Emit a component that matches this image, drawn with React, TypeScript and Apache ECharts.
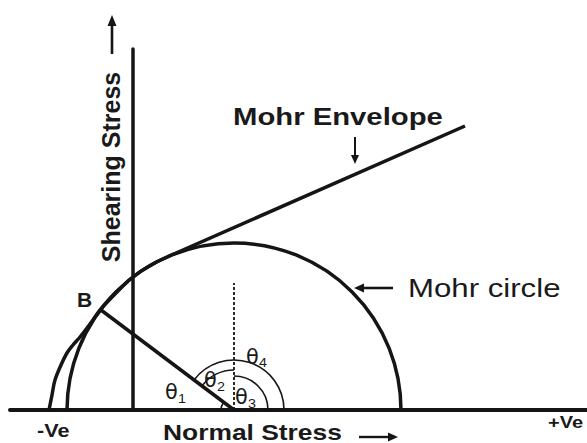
import React, { useEffect, useRef } from "react";
import * as echarts from "echarts";

// ---- data (stress units) ----
const xRange = [-123, 454]; // normal stress axis extent
const yRange = [0, 361]; // shearing stress axis extent
const sigma3 = -66; // Mohr circle, minor principal stress
const sigma1 = 268; // Mohr circle, major principal stress
const pointB = [-32, 100]; // point B on the circle
const centerLineTop = 127; // top of dotted vertical line through the centre
const envelopeCurveX = [-84, -81, -78, -72, -66, -60, -53, -43, -32, -15, 0, 17, 34];
const envelopeCurveY = [0, 15, 30, 45, 57, 65, 73, 86, 101, 119, 133, 144.5, 153];
const envelopeLineX = [34, 332];
const envelopeLineY = [153, 284];
const arcNames = ["θ1", "θ2", "θ3", "θ4"];
const arcRadii = [13, 40, 34, 50];

const FONT = '"Liberation Sans", Arial, Helvetica, sans-serif';
const GREEK = '"DejaVu Sans", "Liberation Sans", sans-serif';
const INK = "#151515";

export default function App() {
  const ref = useRef<HTMLDivElement>(null);

  useEffect(() => {
    document.body.style.margin = "0";
    const chart = echarts.init(ref.current!, null, { renderer: "svg" });

    const center = (sigma1 + sigma3) / 2;
    const lineAngle = (Math.atan2(pointB[1], pointB[0] - center) * 180) / Math.PI;
    const arcSpans = [
      [lineAngle, 180],
      [90, lineAngle],
      [0, 90],
      [0, lineAngle],
    ];
    const arcData = arcNames.map((n, i) => [arcRadii[i], arcSpans[i][0], arcSpans[i][1]]);

    const txt = (
      text: string,
      x: number,
      y: number,
      size: number,
      weight: string,
      scaleX = 1.2,
      align = "left",
      rotation = 0,
      family = FONT
    ) => ({
      type: "text",
      x,
      y,
      scaleX,
      rotation,
      z: 10,
      style: {
        text,
        fontSize: size,
        fontWeight: weight,
        fontFamily: family,
        lineHeight: Math.round(size * 0.9),
        fill: "#1a1a1a",
        align,
        verticalAlign: "middle",
      },
    });

    const arrowLine = (x1: number, y1: number, x2: number, y2: number, w: number) => ({
      type: "line",
      z: 10,
      shape: { x1, y1, x2, y2 },
      style: { stroke: INK, lineWidth: w },
    });
    const head = (pts: number[][]) => ({
      type: "polygon",
      z: 10,
      shape: { points: pts },
      style: { fill: INK },
    });

    chart.setOption({
      animation: false,
      backgroundColor: "#ffffff",
      grid: { left: 10, right: 0, top: 49, bottom: 33, containLabel: false, outerBoundsMode: "none" },
      xAxis: {
        type: "value",
        min: xRange[0],
        max: xRange[1],
        axisLine: { show: true, onZero: true, lineStyle: { color: INK, width: 4 } },
        axisTick: { show: false },
        axisLabel: { show: false },
        splitLine: { show: false },
      },
      yAxis: {
        type: "value",
        min: yRange[0],
        max: yRange[1],
        axisLine: { show: true, onZero: true, lineStyle: { color: INK, width: 3.5 } },
        axisTick: { show: false },
        axisLabel: { show: false },
        splitLine: { show: false },
      },
      series: [
        {
          type: "custom",
          name: "Mohr circle",
          data: [[sigma3, sigma1]],
          clip: false,
          renderItem: (params: any, api: any) => {
            const s3 = api.value(0);
            const s1 = api.value(1);
            const c = api.coord([(s1 + s3) / 2, 0]);
            const r = api.size([(s1 - s3) / 2, 0])[0];
            return {
              type: "arc",
              shape: { cx: c[0], cy: c[1], r, startAngle: Math.PI, endAngle: 2 * Math.PI, clockwise: true },
              style: { stroke: INK, lineWidth: 3.5, fill: "none" },
            };
          },
        },
        {
          type: "line",
          name: "Mohr envelope curve",
          data: envelopeCurveX.map((x, i) => [x, envelopeCurveY[i]]),
          smooth: 0.35,
          symbol: "none",
          lineStyle: { color: INK, width: 3.5 },
        },
        {
          type: "line",
          name: "Mohr envelope",
          data: envelopeLineX.map((x, i) => [x, envelopeLineY[i]]),
          symbol: "none",
          lineStyle: { color: INK, width: 3.5 },
        },
        {
          type: "line",
          name: "radius",
          data: [pointB, [center, 0]],
          symbol: "none",
          lineStyle: { color: INK, width: 3.5 },
        },
        {
          type: "line",
          name: "centre line",
          data: [
            [center, 0],
            [center, centerLineTop],
          ],
          symbol: "none",
          lineStyle: { color: INK, width: 1.8, type: [3, 2] },
        },
        {
          type: "custom",
          name: "angles",
          data: arcData,
          clip: false,
          renderItem: (params: any, api: any) => {
            const c = api.coord([center, 0]);
            const r = api.size([api.value(0), 0])[0];
            const a0 = (api.value(1) * Math.PI) / 180;
            const a1 = (api.value(2) * Math.PI) / 180;
            return {
              type: "arc",
              shape: { cx: c[0], cy: c[1], r, startAngle: -a1, endAngle: -a0, clockwise: true },
              style: { stroke: INK, lineWidth: 1.6, fill: "none" },
            };
          },
        },
      ],
      graphic: [
        txt("Mohr Envelope", 233, 117, 24, "bold", 1.22),
        txt("Mohr circle", 408, 288, 26, "normal", 1.2),
        txt("Normal Stress", 163, 432, 22, "bold"),
        txt("-Ve", 37, 431, 18, "bold"),
        txt("+Ve", 548, 423, 16, "bold", 1.25),
        txt("B", 77, 300, 20, "bold", 1.05),
        txt("Shearing Stress", 111, 167, 25, "bold", 1, "center", Math.PI / 2),
        // theta labels
        txt("θ", 165, 391, 22, "normal", 0.95, "left", 0, GREEK),
        txt("1", 178, 399, 13, "normal", 1.1),
        txt("θ", 204, 379, 22, "normal", 0.95, "left", 0, GREEK),
        txt("2", 217, 387, 13, "normal", 1.1),
        txt("θ", 235, 396, 22, "normal", 0.95, "left", 0, GREEK),
        txt("3", 248, 404, 13, "normal", 1.1),
        txt("θ", 246, 356, 22, "normal", 0.95, "left", 0, GREEK),
        txt("4", 259, 363, 13, "normal", 1.1),
        // arrows
        arrowLine(112, 54, 112, 24, 2.6),
        head([
          [112, 15],
          [107.5, 26],
          [116.5, 26],
        ]),
        arrowLine(355, 137, 355, 156, 2),
        head([
          [355, 164],
          [351, 155],
          [359, 155],
        ]),
        arrowLine(393, 288, 362, 288, 2.6),
        head([
          [354, 288],
          [364, 283.5],
          [364, 292.5],
        ]),
        arrowLine(359, 437, 389, 437, 2.4),
        head([
          [398, 437],
          [388, 432.5],
          [388, 441.5],
        ]),
      ],
    });
    return () => chart.dispose();
  }, []);

  return (
    <div
      ref={ref}
      style={{ position: "absolute", left: 0, top: 0, width: 587, height: 443, background: "#fff" }}
    />
  );
}
